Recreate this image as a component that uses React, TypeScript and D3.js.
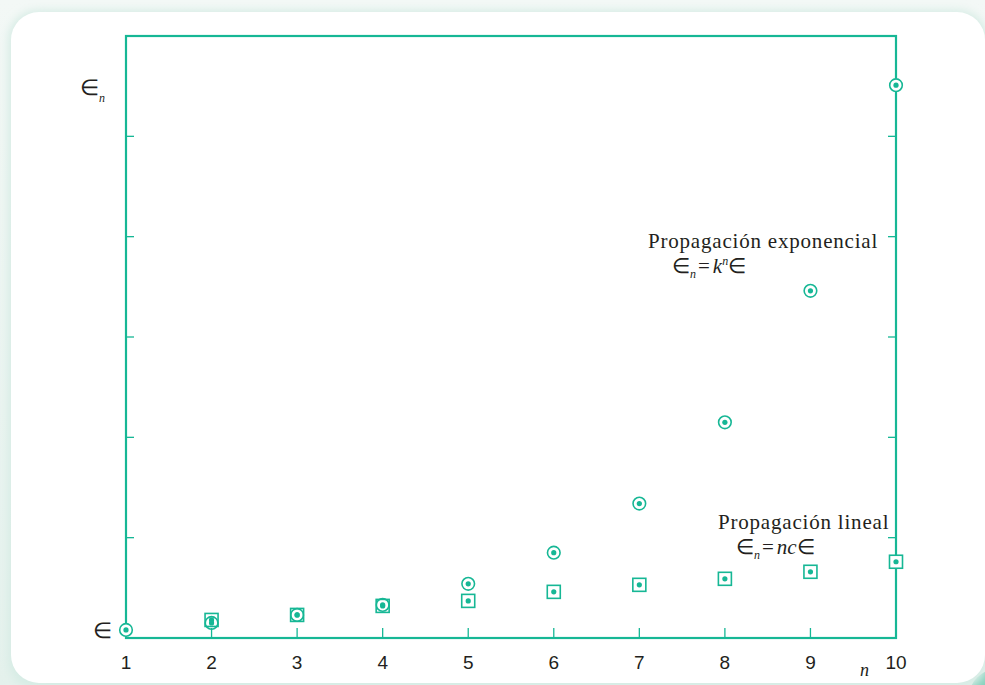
import React from "react";
import * as d3 from "d3";

const nValues = [1, 2, 3, 4, 5, 6, 7, 8, 9, 10];
const expValues = [0.08, 0.15, 0.23, 0.33, 0.54, 0.85, 1.34, 2.15, 3.46, 5.51];
const linN = [2, 3, 4, 5, 6, 7, 8, 9, 10];
const linValues = [0.18, 0.23, 0.32, 0.37, 0.46, 0.53, 0.59, 0.66, 0.76];
const yTicks = [1, 2, 3, 4, 5];
const xTickLabels = ["1", "2", "3", "4", "5", "6", "7", "8", "9", "10"];

const TEAL = "#16b795";
const TEXT = "#231f20";
const W = 985;
const H = 685;

export default function App() {
  const x = d3.scaleLinear().domain([1, 10]).range([126, 896]);
  const y = d3.scaleLinear().domain([0, 6]).range([638, 36]);
  const left = x(1), right = x(10), top = y(6), bottom = y(0);
  const serif = "'Liberation Serif', 'DejaVu Serif', serif";
  const sans = "'Liberation Sans', Arial, sans-serif";

  return (
    <svg width={W} height={H} style={{ position: "absolute", left: 0, top: 0, display: "block" }}>
      <defs>
        <linearGradient id="bg" x1="0" y1="0" x2="0" y2="1">
          <stop offset="0" stopColor="#f3f8f6" />
          <stop offset="1" stopColor="#e4f1ec" />
        </linearGradient>
        <filter id="sh" x="-5%" y="-5%" width="110%" height="110%">
          <feGaussianBlur stdDeviation="4" />
        </filter>
      </defs>
      <rect x={0} y={0} width={W} height={H} fill="url(#bg)" />
      <circle cx={1000} cy={700} r={32} fill="#6cc9b0" opacity={0.8} />
      <rect x={8} y={10} width={980} height={680} rx={30} fill="#d7ece5" filter="url(#sh)" />
      <rect x={11} y={12} width={974} height={671} rx={28} fill="#ffffff" />

      {/* frame */}
      <rect x={left} y={top} width={right - left} height={bottom - top} fill="none" stroke={TEAL} strokeWidth={2.2} />

      {/* x ticks */}
      {nValues.slice(1, 9).map((n) => (
        <line key={"xt" + n} x1={x(n)} x2={x(n)} y1={bottom} y2={bottom - 10} stroke={TEAL} strokeWidth={1.3} />
      ))}
      {/* y ticks left and right */}
      {yTicks.map((t) => (
        <g key={"yt" + t}>
          <line x1={left} x2={left + 8} y1={y(t)} y2={y(t)} stroke={TEAL} strokeWidth={1.3} />
          <line x1={right} x2={right - 8} y1={y(t)} y2={y(t)} stroke={TEAL} strokeWidth={1.3} />
        </g>
      ))}

      {/* x tick labels */}
      {nValues.map((n, i) => (
        <text key={"xl" + n} x={x(n)} y={669} textAnchor="middle" fontFamily={sans} fontSize={19} fill={TEXT}>
          {xTickLabels[i]}
        </text>
      ))}
      <text x={860} y={676} fontFamily={serif} fontStyle="italic" fontSize={18} fill={TEXT}>n</text>

      {/* y labels */}
      <text x={80} y={95} fontFamily={sans} fontSize={22} fill={TEXT}>∈</text>
      <text x={99} y={102} fontFamily={serif} fontStyle="italic" fontSize={12} fill={TEXT}>n</text>
      <text x={93} y={638} fontFamily={sans} fontSize={22} fill={TEXT}>∈</text>

      {/* linear markers (squares) */}
      {linN.map((n, i) => (
        <g key={"sq" + n}>
          <rect x={x(n) - 6.5} y={y(linValues[i]) - 6.5} width={13} height={13} fill="#ffffff" stroke={TEAL} strokeWidth={1.6} />
          <circle cx={x(n)} cy={y(linValues[i])} r={2.6} fill={TEAL} />
        </g>
      ))}
      {/* exponential markers (circles) */}
      {nValues.map((n, i) => (
        <g key={"ci" + n}>
          <circle cx={x(n)} cy={y(expValues[i])} r={6.3} fill={n <= 4 && n > 1 ? "none" : "#ffffff"} stroke={TEAL} strokeWidth={1.6} />
          <circle cx={x(n)} cy={y(expValues[i])} r={2.6} fill={TEAL} />
        </g>
      ))}

      {/* annotations */}
      <text x={648} y={248} fontFamily={serif} fontSize={21} letterSpacing={0.8} fill={TEXT}>Propagación exponencial</text>
      <text x={672} y={273} fontFamily={serif} fontSize={21} fill={TEXT}>
        <tspan fontFamily={sans}>∈</tspan>
        <tspan fontStyle="italic" fontSize={12} dy={5}>n</tspan>
        <tspan dy={-5} dx={2}>=</tspan>
        <tspan fontStyle="italic" dx={3}>k</tspan>
        <tspan fontStyle="italic" fontSize={12} dy={-8}>n</tspan>
        <tspan fontFamily={sans} dy={8}>∈</tspan>
      </text>

      <text x={718} y={529} fontFamily={serif} fontSize={21} letterSpacing={0.8} fill={TEXT}>Propagación lineal</text>
      <text x={736} y={554} fontFamily={serif} fontSize={21} fill={TEXT}>
        <tspan fontFamily={sans}>∈</tspan>
        <tspan fontStyle="italic" fontSize={12} dy={5}>n</tspan>
        <tspan dy={-5} dx={2}>=</tspan>
        <tspan fontStyle="italic" dx={3}>nc</tspan>
        <tspan fontFamily={sans}>∈</tspan>
      </text>
    </svg>
  );
}
